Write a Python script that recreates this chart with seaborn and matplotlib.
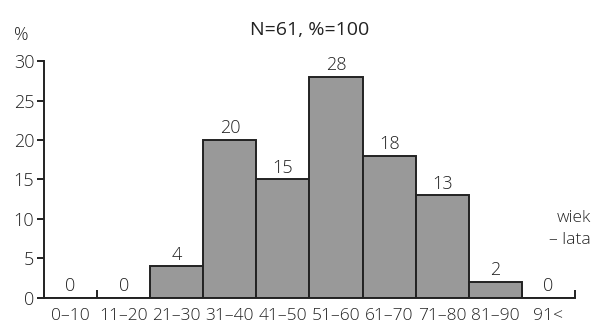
import matplotlib
matplotlib.use('Agg')
import matplotlib.pyplot as plt
import seaborn as sns
import pandas as pd

age_groups = ['0–10', '11–20', '21–30', '31–40', '41–50', '51–60', '61–70', '71–80', '81–90', '91<']
percent = [0, 0, 4, 20, 15, 28, 18, 13, 2, 0]
y_ticks = [0, 5, 10, 15, 20, 25, 30]


def main():
	df = pd.DataFrame({'wiek': age_groups, 'proc': percent})

	sns.set_theme(style='white')
	plt.rcParams['font.family'] = ['Open Sans', 'DejaVu Sans']
	plt.rcParams['font.weight'] = 300
	txt = '#222222'

	fig = plt.figure(figsize=(5.93, 3.25), dpi=100)
	ax = fig.add_axes([0.0742, 0.0831, 0.8954, 0.7292])

	sns.barplot(data=df, x='wiek', y='proc', color='#999999', width=1.0,
		edgecolor=txt, linewidth=1.4, saturation=1, ax=ax)

	for c in ax.containers:
		ax.bar_label(c, labels=[str(v) for v in percent], padding=2, fontsize=13, color=txt)

	ax.set_xlim(-0.5, len(age_groups) - 0.5)
	ax.set_ylim(0, 30)
	ax.set_yticks(y_ticks)
	ax.set_xlabel('')
	ax.set_ylabel('')

	# edges of bins get upward ticks, labels sit in the middle
	edges = [i - 0.5 for i in range(len(age_groups) + 1)]
	ax.set_xticks(edges)
	ax.set_xticklabels([''] * len(edges))
	ax.set_xticks(range(len(age_groups)), minor=True)
	ax.set_xticklabels(age_groups, minor=True, fontsize=12.5, color=txt)
	ax.tick_params(axis='x', which='major', direction='in', length=6, width=1.4, color=txt, bottom=True)
	ax.tick_params(axis='x', which='minor', length=0, pad=7, bottom=True)
	ax.tick_params(axis='y', direction='out', length=5, width=1.4, color=txt, left=True,
		labelsize=13, labelcolor=txt, pad=2)

	sns.despine(ax=ax)
	for s in ['left', 'bottom']:
		ax.spines[s].set_color(txt)
		ax.spines[s].set_linewidth(1.4)

	ax.set_title('N=61, %=100', fontsize=14, color=txt, pad=19)
	fig.text(0.024, 0.892, '%', fontsize=13, color=txt, va='center', ha='left')
	fig.text(0.997, 0.295, 'wiek\n– lata', ha='right', va='center',
		fontsize=12.5, color=txt, linespacing=1.45)

	fig.savefig('out.png', dpi=100)


if __name__ == '__main__':
	main()
